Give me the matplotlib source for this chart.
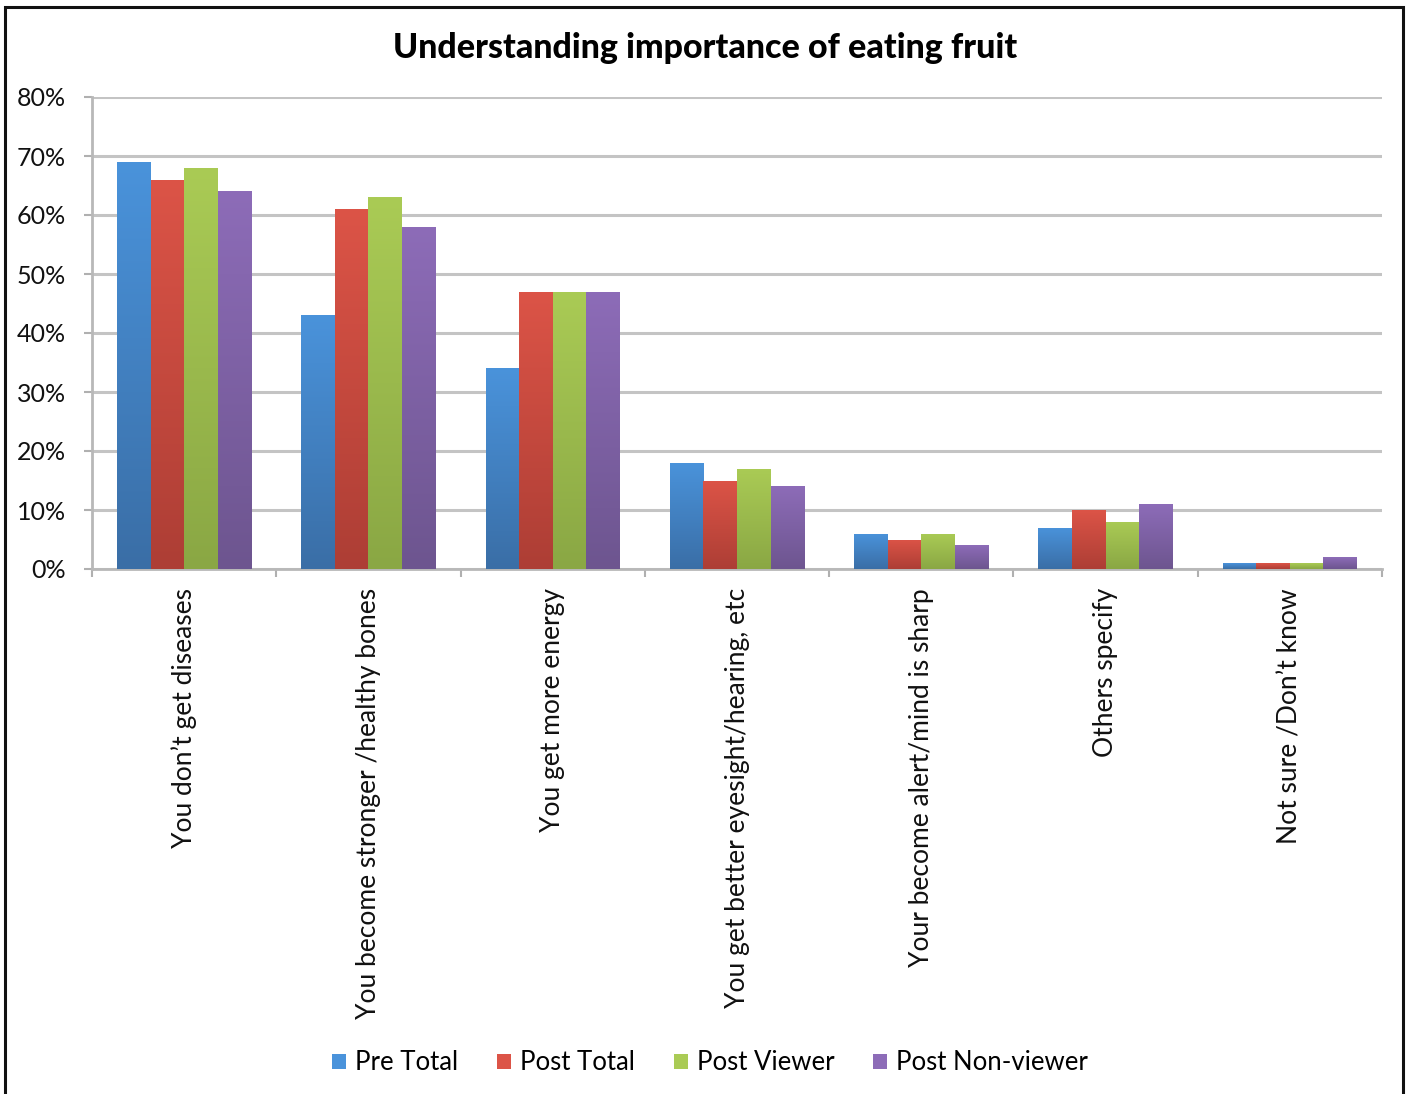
import matplotlib.pyplot as plt
import numpy as np
from matplotlib.colors import LinearSegmentedColormap
from matplotlib.patches import Rectangle

plt.rcParams['font.family'] = ['Lato', 'DejaVu Sans']

categories = ['You don\u2019t get diseases', 'You become stronger /healthy bones',
              'You get more energy', 'You get better eyesight/hearing, etc',
              'Your become alert/mind is sharp', 'Others specify', 'Not sure /Don\u2019t know']
series = ['Pre Total', 'Post Total', 'Post Viewer', 'Post Non-viewer']
pre_total = [69, 43, 34, 18, 6, 7, 1]
post_total = [66, 61, 47, 15, 5, 10, 1]
post_viewer = [68, 63, 47, 17, 6, 8, 1]
post_nonviewer = [64, 58, 47, 14, 4, 11, 2]
yticks = [0, 10, 20, 30, 40, 50, 60, 70, 80]

# top / bottom shades for each series (Excel style vertical gradient)
shades = [('#4a93db', '#3a6ea6'), ('#dc5447', '#ad3e35'),
          ('#aacb55', '#8aa744'), ('#8d6cb8', '#6d558f')]

fig = plt.figure(figsize=(14.08, 10.94), dpi=100)
ax = fig.add_axes([92/1408, 1 - 569/1094, (1382-92)/1408, (569-97)/1094])

x = np.arange(len(categories))
w = 0.182
values = [pre_total, post_total, post_viewer, post_nonviewer]
for i, vals in enumerate(values):
    bars = ax.bar(x + (i - 1.5) * w, vals, width=w, color=shades[i][0],
                  label=series[i], zorder=3, linewidth=0)
    cmap = LinearSegmentedColormap.from_list('g%d' % i, [shades[i][1], shades[i][0]])
    grad = np.linspace(0, 1, 256).reshape(-1, 1)
    for b in bars:
        bx, by = b.get_x(), b.get_y()
        im = ax.imshow(grad, cmap=cmap, origin='lower', aspect='auto', zorder=4,
                       extent=[bx, bx + b.get_width(), by, by + b.get_height()])
        im.set_clip_path(b)

ax.set_xlim(-0.5, len(categories) - 0.5)
ax.set_ylim(0, 80)
ax.set_yticks(yticks)
ax.set_yticklabels(['%d%%' % v for v in yticks], fontsize=18, color='#111111')
ax.yaxis.grid(True, color='#c4c4c4', linewidth=2.2, zorder=0)
ax.set_axisbelow(True)

ax.set_xticks(np.arange(len(categories) + 1) - 0.5, minor=False)
ax.set_xticklabels([])
ax.tick_params(axis='x', direction='out', length=6, width=1.5, color='#b0b0b0')
ax.tick_params(axis='y', direction='out', length=6, width=1.5, color='#b0b0b0', pad=13)
for s in ['top', 'right']:
    ax.spines[s].set_visible(False)
ax.spines['left'].set_color('#b8b8b8')
ax.spines['left'].set_linewidth(2)
ax.spines['bottom'].set_color('#b8b8b8')
ax.spines['bottom'].set_linewidth(2)

for xi, lab in zip(x, categories):
    ax.text(xi, -3.2, lab, rotation=90, ha='center', va='top', fontsize=19,
            color='#111111')

fig.text(705/1408, 1 - 48/1094, 'Understanding importance of eating fruit',
         ha='center', va='center', fontsize=24.5, fontweight='black')

fig.legend(loc='center', bbox_to_anchor=(710/1408, 1 - 1063/1094), ncol=4,
           frameon=False, fontsize=18.5, handlelength=0.55, handleheight=0.55,
           handletextpad=0.35, columnspacing=1.5)

fig.patches.append(Rectangle((5/1408, -0.05), (1398)/1408, 1.05 - 7/1094,
                             transform=fig.transFigure, fill=False,
                             edgecolor='#111111', linewidth=2.2))

fig.savefig('out.png', dpi=100)
